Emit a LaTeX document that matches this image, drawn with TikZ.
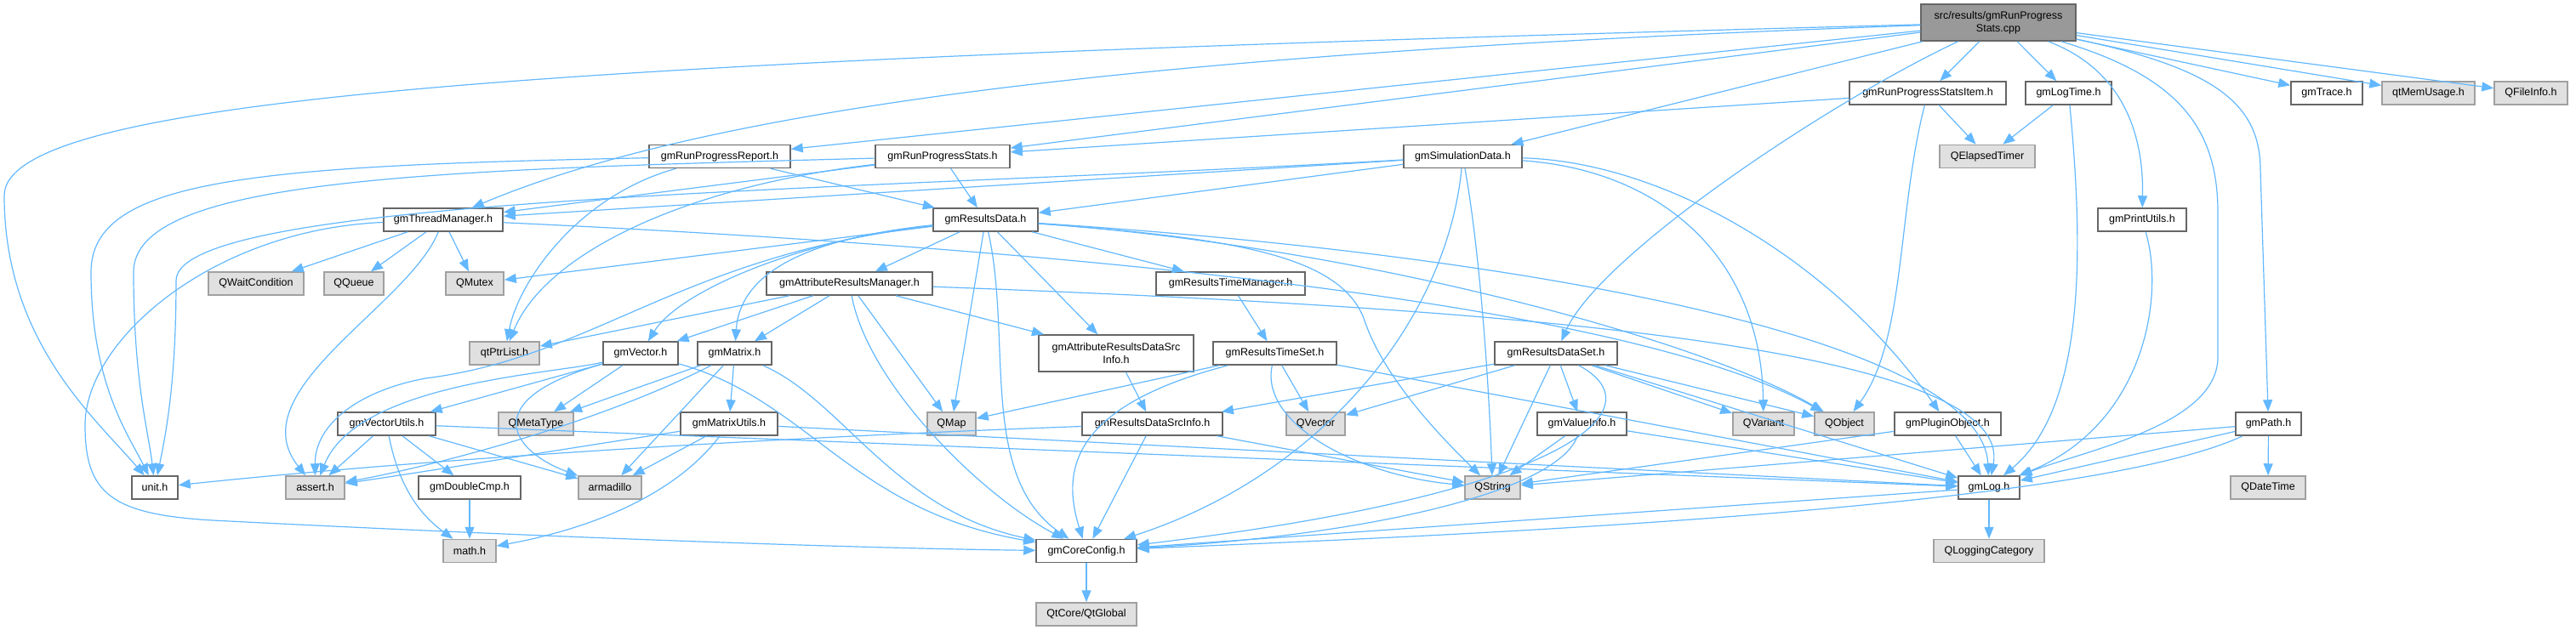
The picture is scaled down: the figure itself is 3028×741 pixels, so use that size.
\documentclass[tikz,border=0pt]{standalone}
\usepackage{fontspec}
\setmainfont{Liberation Sans}
\usetikzlibrary{arrows.meta}
\definecolor{edgeblue}{HTML}{63B8FF}
\definecolor{filegray}{HTML}{666666}
\definecolor{extgray}{HTML}{A0A0A0}
\definecolor{extfill}{HTML}{E0E0E0}
\definecolor{rootfill}{HTML}{999999}

\begin{document}
\begin{tikzpicture}[x=1pt,y=-1pt]
\tikzstyle{file} = [rectangle, draw=filegray, line width=1.5pt, fill=white,
minimum height=27pt, inner sep=0pt, font=\fontsize{12.5}{15}\selectfont]
\tikzstyle{ext} = [file, draw=extgray, fill=extfill]
\tikzstyle{rootfile} = [file, fill=rootfill, minimum height=43pt, align=center]
\tikzstyle{twoline} = [file, minimum height=43pt, align=center]
\tikzstyle{line} = [draw=edgeblue, line width=1.2pt, -{Triangle[length=14pt,width=11pt]}]
\useasboundingbox (0,0) rectangle (3028,741);

% row 1
\node [rootfile, minimum width=182] (root) at (2349,26.5) {src/results/gmRunProgress\\Stats.cpp};
% row 2
\node [file, minimum width=184] (rpsitem) at (2266,109.5) {gmRunProgressStatsItem.h};
\node [file, minimum width=101] (logtime) at (2431.5,109.5) {gmLogTime.h};
\node [file, minimum width=84] (trace) at (2735,109.5) {gmTrace.h};
\node [ext, minimum width=109] (memusage) at (2854.5,109.5) {qtMemUsage.h};
\node [ext, minimum width=86] (fileinfo) at (2975,109.5) {QFileInfo.h};
% row 3
\node [file, minimum width=166] (rpreport) at (846,184) {gmRunProgressReport.h};
\node [file, minimum width=158] (rpstats) at (1108,184) {gmRunProgressStats.h};
\node [file, minimum width=139] (simdata) at (1719.5,184) {gmSimulationData.h};
\node [ext, minimum width=112] (elapsed) at (2336,184) {QElapsedTimer};
% row 4
\node [file, minimum width=140] (threadmgr) at (521,258.5) {gmThreadManager.h};
\node [file, minimum width=123] (resdata) at (1158.5,258.5) {gmResultsData.h};
\node [file, minimum width=104] (printutils) at (2518,258.5) {gmPrintUtils.h};
% row 5
\node [ext, minimum width=112] (waitcond) at (301,333.5) {QWaitCondition};
\node [ext, minimum width=70] (queue) at (416,333.5) {QQueue};
\node [ext, minimum width=68] (mutex) at (558,333.5) {QMutex};
\node [file, minimum width=195] (attrmgr) at (998.5,333.5) {gmAttributeResultsManager.h};
\node [file, minimum width=175] (timemgr) at (1446.5,333.5) {gmResultsTimeManager.h};
% row 6
\node [ext, minimum width=82] (ptrlist) at (593,415.5) {qtPtrList.h};
\node [file, minimum width=88] (vector) at (753,415.5) {gmVector.h};
\node [file, minimum width=87] (matrix) at (863.5,415.5) {gmMatrix.h};
\node [twoline, minimum width=182] (attrsrc) at (1312,415.5) {gmAttributeResultsDataSrc\\Info.h};
\node [file, minimum width=145] (timeset) at (1498.5,415.5) {gmResultsTimeSet.h};
\node [file, minimum width=144] (dataset) at (1829,415.5) {gmResultsDataSet.h};
% row 7
\node [file, minimum width=115] (vecutils) at (454.5,498.5) {gmVectorUtils.h};
\node [ext, minimum width=88] (metatype) at (630,498.5) {QMetaType};
\node [file, minimum width=114] (matutils) at (857,498.5) {gmMatrixUtils.h};
\node [ext, minimum width=57] (qmap) at (1118.5,498.5) {QMap};
\node [file, minimum width=165] (srcinfo) at (1354.5,498.5) {gmResultsDataSrcInfo.h};
\node [ext, minimum width=69] (qvector) at (1546.5,498.5) {QVector};
\node [file, minimum width=105] (valueinfo) at (1859.5,498.5) {gmValueInfo.h};
\node [ext, minimum width=72] (qvariant) at (2073,498.5) {QVariant};
\node [ext, minimum width=70] (qobject) at (2168,498.5) {QObject};
\node [file, minimum width=125] (plugin) at (2289.5,498.5) {gmPluginObject.h};
\node [file, minimum width=77] (path) at (2666.5,498.5) {gmPath.h};
% row 8
\node [file, minimum width=54] (unit) at (182,573.5) {unit.h};
\node [ext, minimum width=69] (assert) at (370.5,573.5) {assert.h};
\node [file, minimum width=120] (dblcmp) at (552,573.5) {gmDoubleCmp.h};
\node [ext, minimum width=74] (armadillo) at (717,573.5) {armadillo};
\node [ext, minimum width=65] (qstring) at (1754.5,573.5) {QString};
\node [file, minimum width=72] (log) at (2338,573.5) {gmLog.h};
\node [ext, minimum width=88] (datetime) at (2666,573.5) {QDateTime};
% row 9
\node [ext, minimum width=62] (math) at (552,648) {math.h};
\node [file, minimum width=118] (coreconfig) at (1277,648) {gmCoreConfig.h};
\node [ext, minimum width=130] (logcat) at (2338,648) {QLoggingCategory};
% row 10
\node [ext, minimum width=118] (qtglobal) at (1277,722.5) {QtCore/QtGlobal};

\tikzstyle{every path}=[line]
% from the source file
\path (root) .. controls (700,70) and (5,110) .. (5,230) .. controls (5,400) and (110,490) .. (unit);
\path (root) .. controls (1400,60) and (850,120) .. (threadmgr);
\path (root) -- (rpreport);
\path (root) -- (rpstats);
\path (root) -- (simdata);
\path (root) .. controls (2150,120) and (1880,300) .. (dataset);
\path (root) -- (rpsitem);
\path (root) -- (logtime);
\path (root) .. controls (2490,80) and (2520,150) .. (printutils);
\path (root) .. controls (2560,90) and (2607,150) .. (2607,250) -- (2607,420) .. controls (2607,500) and (2450,530) .. (log);
\path (root) .. controls (2600,80) and (2657,120) .. (2657,200) -- (path);
\path (root) -- (trace);
\path (root) -- (memusage);
\path (root) -- (fileinfo);
% second level
\path (rpsitem) -- (rpstats);
\path (rpsitem) -- (elapsed);
\path (rpsitem) .. controls (2230,250) and (2240,400) .. (qobject);
\path (logtime) -- (elapsed);
\path (logtime) .. controls (2450,300) and (2450,480) .. (log);
\path (printutils) .. controls (2545,350) and (2520,500) .. (log);
\path (path) -- (datetime);
\path (path) -- (log);
\path (path) -- (qstring);
\path (path) .. controls (2450,600) and (1700,630) .. (coreconfig);
\path (rpreport) -- (resdata);
\path (rpreport) .. controls (300,195) and (107,210) .. (107,320) .. controls (107,450) and (150,510) .. (unit);
\path (rpreport) .. controls (680,230) and (610,330) .. (ptrlist);
\path (rpstats) -- (resdata);
\path (rpstats) -- (threadmgr);
\path (rpstats) .. controls (500,200) and (157,210) .. (157,320) .. controls (157,450) and (175,510) .. (unit);
\path (rpstats) .. controls (800,220) and (640,300) .. (ptrlist);
\path (simdata) -- (threadmgr);
\path (simdata) .. controls (1000,225) and (207,230) .. (207,330) .. controls (207,450) and (195,510) .. (unit);
\path (simdata) -- (resdata);
\path (simdata) .. controls (1740,300) and (1750,450) .. (qstring);
\path (simdata) .. controls (1700,380) and (1550,560) .. (coreconfig);
\path (simdata) .. controls (1950,200) and (2070,300) .. (qvariant);
\path (simdata) .. controls (1950,190) and (2150,300) .. (plugin);
% thread manager
\path (threadmgr) -- (waitcond);
\path (threadmgr) -- (queue);
\path (threadmgr) -- (mutex);
\path (threadmgr) .. controls (480,360) and (280,460) .. (assert);
\path (threadmgr) .. controls (250,270) and (100,400) .. (100,500) .. controls (100,580) and (130,605) .. (250,612) .. controls (600,630) and (1000,645) .. (coreconfig);
\path (threadmgr) .. controls (1200,290) and (1900,350) .. (qobject);
% results data
\path (resdata) -- (attrmgr);
\path (resdata) -- (timemgr);
\path (resdata) -- (mutex);
\path (resdata) -- (qmap);
\path (resdata) -- (attrsrc);
\path (resdata) .. controls (1190,400) and (1150,560) .. (coreconfig);
\path (resdata) .. controls (950,280) and (800,340) .. (vector);
\path (resdata) .. controls (950,280) and (870,320) .. (matrix);
\path (resdata) .. controls (800,300) and (700,420) .. (500,445) .. controls (420,460) and (370,500) .. (assert);
\path (resdata) .. controls (1450,280) and (1580,300) .. (1605,380) .. controls (1630,450) and (1700,520) .. (qstring);
\path (resdata) .. controls (1600,290) and (2000,400) .. (qobject);
\path (resdata) .. controls (1800,300) and (2330,400) .. (log);
% attribute results manager
\path (attrmgr) -- (ptrlist);
\path (attrmgr) -- (vector);
\path (attrmgr) -- (matrix);
\path (attrmgr) -- (qmap);
\path (attrmgr) -- (attrsrc);
\path (attrmgr) .. controls (1020,450) and (1150,580) .. (coreconfig);
\path (attrmgr) .. controls (1700,360) and (2370,400) .. (log);
% time set
\path (timemgr) -- (timeset);
\path (timeset) -- (qmap);
\path (timeset) -- (qvector);
\path (timeset) .. controls (1480,500) and (1600,560) .. (qstring);
\path (timeset) .. controls (1250,480) and (1250,560) .. (coreconfig);
\path (timeset) -- (log);
\path (attrsrc) -- (srcinfo);
\path (srcinfo) -- (coreconfig);
\path (srcinfo) -- (qstring);
\path (srcinfo) .. controls (900,515) and (500,540) .. (unit);
% data set
\path (dataset) -- (srcinfo);
\path (dataset) -- (qvector);
\path (dataset) -- (qstring);
\path (dataset) -- (valueinfo);
\path (dataset) -- (qvariant);
\path (dataset) -- (qobject);
\path (dataset) .. controls (1950,480) and (1850,580) .. (coreconfig);
\path (dataset) -- (log);
\path (valueinfo) -- (qstring);
\path (valueinfo) .. controls (1830,580) and (1600,630) .. (coreconfig);
\path (valueinfo) -- (log);
\path (plugin) -- (qstring);
\path (plugin) -- (log);
% vector and matrix
\path (vector) -- (metatype);
\path (vector) -- (vecutils);
\path (vector) .. controls (650,440) and (420,450) .. (assert);
\path (vector) .. controls (560,470) and (600,530) .. (armadillo);
\path (vector) .. controls (950,470) and (1000,600) .. (coreconfig);
\path (matrix) -- (metatype);
\path (matrix) -- (matutils);
\path (matrix) -- (armadillo);
\path (matrix) .. controls (700,500) and (500,550) .. (assert);
\path (matrix) .. controls (990,470) and (1050,600) .. (coreconfig);
\path (matutils) -- (armadillo);
\path (matutils) .. controls (780,600) and (650,630) .. (math);
\path (matutils) -- (log);
\path (matutils) .. controls (650,530) and (500,555) .. (assert);
\path (vecutils) -- (assert);
\path (vecutils) -- (dblcmp);
\path (vecutils) .. controls (470,580) and (500,610) .. (math);
\path (vecutils) -- (armadillo);
\path (vecutils) -- (log);
\path (dblcmp) -- (math);
% bottom
\path (log) -- (logcat);
\path (log) -- (coreconfig);
\path (coreconfig) -- (qtglobal);

\end{tikzpicture}
\end{document}
